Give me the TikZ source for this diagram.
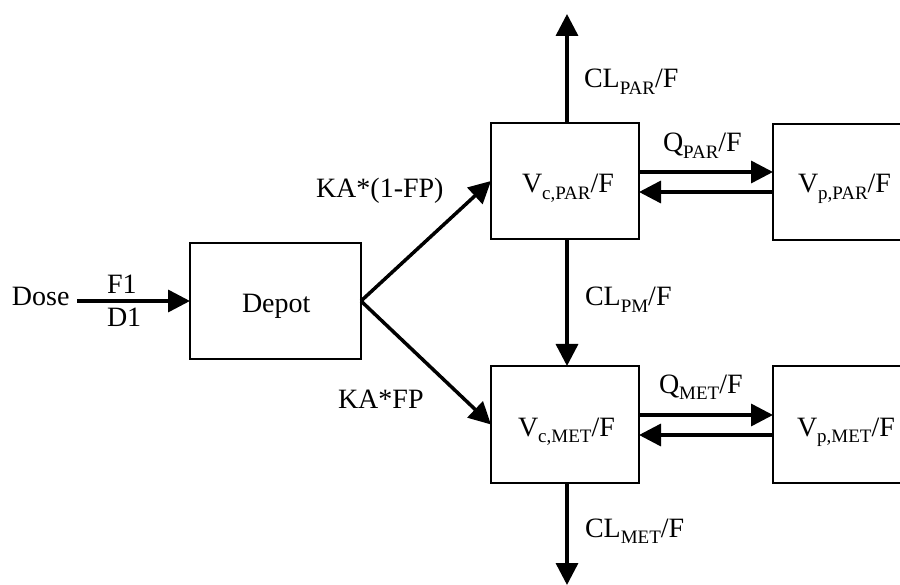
\documentclass[tikz,border=0pt]{standalone}
\usepackage{fontspec}
\setmainfont{Liberation Serif}
\usetikzlibrary{arrows.meta}
\newcommand\subx[1]{\raisebox{-6.5pt}{\fontsize{19}{19}\selectfont #1}}
\begin{document}
\begin{tikzpicture}[x=1pt,y=-1pt,
  box/.style={draw, line width=2.5pt, outer sep=0pt, inner sep=0pt},
  lbl/.style={anchor=base west, inner sep=0pt, outer sep=0pt, font=\fontsize{28}{32}\selectfont},
  arr/.style={line width=3.5pt, -{Triangle[length=22pt,width=22pt]}}]
\useasboundingbox (0,0) rectangle (900,585);
% boxes
\node[box, minimum width=171pt, minimum height=116pt] (depot) at (275.5,301) {};
\node[box, minimum width=148pt, minimum height=116pt] (vcpar) at (565,181) {};
\node[box, minimum width=148pt, minimum height=116pt] (vppar) at (847,182) {};
\node[box, minimum width=148pt, minimum height=117pt] (vcmet) at (565,424.5) {};
\node[box, minimum width=148pt, minimum height=117pt] (vpmet) at (847,424.5) {};
% box texts
\node[lbl] (tdepot) at (242,313) {Depot};
\node[lbl] (tvcpar) at (522,193) {V\subx{c,PAR}/F};
\node[lbl] (tvppar) at (798,193) {V\subx{p,PAR}/F};
\node[lbl] (tvcmet) at (518,436) {V\subx{c,MET}/F};
\node[lbl] (tvpmet) at (797,436) {V\subx{p,MET}/F};
% labels
\node[lbl] (dose) at (12,306) {Dose};
\node[lbl] (f1) at (107,294) {F1};
\node[lbl] (d1) at (107,327) {D1};
\node[lbl] (ka1) at (316,198) {KA*(1-FP)};
\node[lbl] (ka2) at (338,408) {KA*FP};
\node[lbl] (clpar) at (584,88) {CL\subx{PAR}/F};
\node[lbl] (qpar) at (663,152) {Q\subx{PAR}/F};
\node[lbl] (clpm) at (585,306) {CL\subx{PM}/F};
\node[lbl] (qmet) at (659,393) {Q\subx{MET}/F};
\node[lbl] (clmet) at (585,537) {CL\subx{MET}/F};
% free ends
\coordinate (dosestart) at (77,301);
\coordinate (topend) at (567,14);
\coordinate (botend) at (567,585);
% connectors
\draw[arr] (dosestart) -- (depot.west);
\draw[arr] (depot.east) -- (vcpar.west);
\draw[arr] (depot.east) -- (vcmet.west);
\draw[arr] (vcpar.north -| topend) -- (topend);
\draw[arr] (vcpar.south -| topend) -- (vcmet.north -| topend);
\draw[arr] (vcmet.south -| botend) -- (botend);
\draw[arr] (vcpar.east |- 0,172) -- (vppar.west |- 0,172);
\draw[arr] (vppar.west |- 0,192) -- (vcpar.east |- 0,192);
\draw[arr] (vcmet.east |- 0,415) -- (vpmet.west |- 0,415);
\draw[arr] (vpmet.west |- 0,435) -- (vcmet.east |- 0,435);
\end{tikzpicture}
\end{document}
